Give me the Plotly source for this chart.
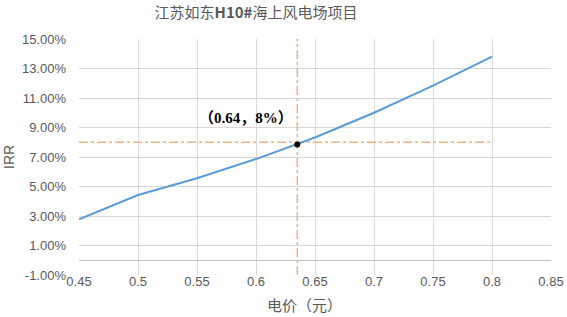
import plotly.graph_objects as go

price = [0.45, 0.5, 0.55, 0.6, 0.65, 0.7, 0.75, 0.8]
irr = [2.78, 4.42, 5.56, 6.86, 8.32, 10.0, 11.84, 13.8]

mark_x = 0.635
mark_y = 7.85
ref_irr = 8.0
ref_x_end = 0.8

y_ticks = [-1, 1, 3, 5, 7, 9, 11, 13, 15]
y_ticktext = ["-1.00%", "1.00%", "3.00%", "5.00%", "7.00%", "9.00%", "11.00%", "13.00%", "15.00%"]
x_ticks = [0.45, 0.5, 0.55, 0.6, 0.65, 0.7, 0.75, 0.8, 0.85]
x_ticktext = ["0.45", "0.5", "0.55", "0.6", "0.65", "0.7", "0.75", "0.8", "0.85"]

title_text = "江苏如东<b>H10#</b>海上风电场项目"
x_title = "电价（元）"
y_title = "IRR"
note_text = "（0.64，8%）"

gray = "#595959"
orange = "#F4B183"
blue = "#5B9BD5"

W, H = 567, 317

fig = go.Figure()
fig.add_trace(go.Scatter(x=[price[0], ref_x_end], y=[ref_irr, ref_irr], mode="lines",
                         line=dict(color=orange, width=1.5, dash="dashdot"), hoverinfo="skip"))
fig.add_trace(go.Scatter(x=[mark_x, mark_x], y=[y_ticks[0], y_ticks[-1]], mode="lines",
                         line=dict(color=orange, width=1.5, dash="dashdot"), hoverinfo="skip"))
fig.add_trace(go.Scatter(x=price, y=irr, mode="lines", line=dict(color=blue, width=2)))
fig.add_trace(go.Scatter(x=[mark_x], y=[mark_y], mode="markers",
                         marker=dict(color="black", size=6)))

fig.update_layout(
    width=W, height=H,
    margin=dict(l=79, r=16, t=39, b=42, autoexpand=False),
    paper_bgcolor="white", plot_bgcolor="white",
    showlegend=False,
    font=dict(family="Liberation Sans, Noto Sans CJK SC", color=gray, size=13),
    title=dict(text=title_text, x=256 / W, xanchor="center", y=1 - 13 / H,
               yanchor="middle", xref="container", yref="container",
               font=dict(family="Noto Sans CJK SC", size=15, color=gray)),
)
fig.update_xaxes(range=[0.45, 0.85], tickvals=x_ticks, ticktext=x_ticktext,
                 showgrid=True, gridcolor="#D9D9D9", gridwidth=1, automargin=False,
                 zeroline=False, showline=False, ticks="", ticklabelstandoff=-3,
                 tickfont=dict(size=13, color=gray, family="Liberation Sans"))
fig.update_yaxes(range=[-1, 15], tickvals=y_ticks, ticktext=y_ticktext,
                 showgrid=True, gridcolor="#D9D9D9", gridwidth=1, automargin=False,
                 zeroline=True, zerolinecolor="#BFBFBF", zerolinewidth=1,
                 showline=False, ticks="", ticklabelstandoff=12,
                 tickfont=dict(size=13, color=gray, family="Liberation Sans"))

fig.add_annotation(text="<b>" + note_text + "</b>", x=(246 - 79) / 472, y=(275 - 118) / 236,
                   xref="paper", yref="paper", xanchor="center", yanchor="middle", showarrow=False,
                   font=dict(family="Liberation Serif, Noto Sans CJK SC", size=15, color="black"))
fig.add_annotation(text=y_title, x=(9 - 79) / 472, y=0.5, xref="paper", yref="paper",
                   xanchor="center", yanchor="middle",
                   textangle=-90, showarrow=False, font=dict(size=14, color=gray, family="Liberation Sans"))
fig.add_annotation(text=x_title, x=(304 - 79) / 472, y=(275 - 304) / 236, xref="paper", yref="paper",
                   xanchor="center", yanchor="middle",
                   showarrow=False, font=dict(size=15, color=gray, family="Noto Sans CJK SC"))

fig.write_html("out.html", config={"displayModeBar": False},
               post_script="document.body.style.margin='0px';")
